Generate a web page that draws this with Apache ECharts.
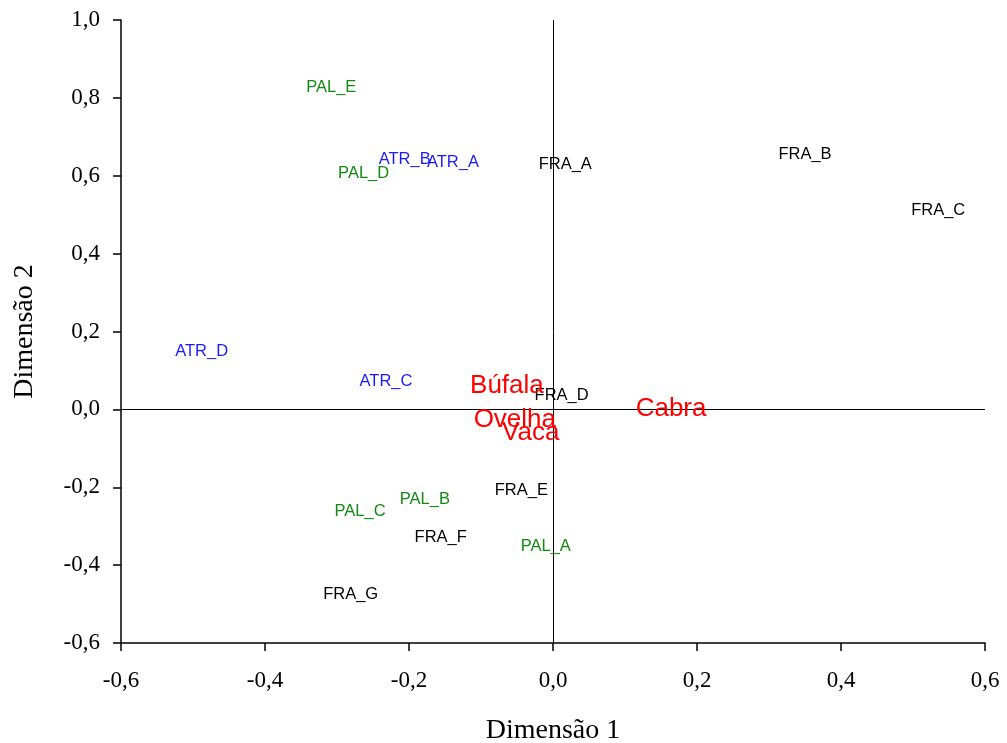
<!DOCTYPE html>
<html>
<head>
<meta charset="utf-8">
<script src="https://cdn.jsdelivr.net/npm/echarts@6/dist/echarts.min.js"></script>
<style>
  html, body { margin: 0; padding: 0; background: #fff; }
  #main { width: 1007px; height: 743px; }
</style>
</head>
<body>
<div id="main"></div>
<script>
// FRA points (black)
var fraNames = ['FRA_A', 'FRA_B', 'FRA_C', 'FRA_D', 'FRA_E', 'FRA_F', 'FRA_G'];
var fraX = [0.017, 0.350, 0.535, 0.012, -0.044, -0.156, -0.281];
var fraY = [0.633, 0.659, 0.515, 0.042, -0.202, -0.325, -0.469];

// ATR points (blue)
var atrNames = ['ATR_A', 'ATR_B', 'ATR_C', 'ATR_D'];
var atrX = [-0.139, -0.206, -0.232, -0.488];
var atrY = [0.640, 0.646, 0.076, 0.155];

// PAL points (green)
var palNames = ['PAL_A', 'PAL_B', 'PAL_C', 'PAL_D', 'PAL_E'];
var palX = [-0.010, -0.178, -0.268, -0.263, -0.308];
var palY = [-0.348, -0.225, -0.256, 0.612, 0.833];

// milk species (red)
var milkNames = ['Búfala', 'Cabra', 'Ovelha', 'Vaca'];
var milkX = [-0.064, 0.164, -0.053, -0.031];
var milkY = [0.065, 0.006, -0.022, -0.055];

var chart = echarts.init(document.getElementById('main'));

function toData(names, xs, ys) {
    return names.map(function (n, i) {
        return { name: n, value: [xs[i], ys[i]] };
    });
}

function labelSeries(name, data, color, size) {
    return {
        name: name,
        type: 'scatter',
        symbolSize: 0,
        data: data,
        itemStyle: { opacity: 1 },
        label: {
            show: true,
            position: 'inside',
            offset: [0, 2],
            formatter: '{b}',
            color: color,
            fontFamily: 'Liberation Sans',
            fontSize: size
        },
        z: 5
    };
}

function fmt(v) {
    return v.toFixed(1).replace('.', ',');
}

var axisCommon = {
    type: 'value',
    min: -0.6,
    interval: 0.2,
    nameLocation: 'middle',
    nameTextStyle: { fontFamily: 'Liberation Serif', fontSize: 28, color: '#000' },
    axisLine: { show: true, onZero: false, lineStyle: { color: '#000', width: 1.5 } },
    axisTick: { show: true, inside: false, length: 8, lineStyle: { color: '#000', width: 1.5 } },
    axisLabel: { formatter: fmt, fontFamily: 'Liberation Serif', fontSize: 23, color: '#000' },
    splitLine: { show: false }
};

var zeroLines = labelSeries('zero', [], '#000', 14);
zeroLines.markLine = {
    silent: true,
    symbol: 'none',
    label: { show: false },
    lineStyle: { color: '#000', width: 1, type: 'solid' },
    data: [{ xAxis: 0 }, { yAxis: 0 }]
};

var option = {
    animation: false,
    grid: { left: 121, right: 22, top: 20, bottom: 100, outerBoundsMode: 'none', containLabel: false },
    xAxis: Object.assign({}, axisCommon, {
        max: 0.6,
        name: 'Dimensão 1',
        nameGap: 74,
        axisLabel: Object.assign({}, axisCommon.axisLabel, { margin: 26 })
    }),
    yAxis: Object.assign({}, axisCommon, {
        max: 1.0,
        name: 'Dimensão 2',
        nameGap: 82,
        axisLabel: Object.assign({}, axisCommon.axisLabel, { margin: 21 })
    }),
    series: [
        zeroLines,
        labelSeries('FRA', toData(fraNames, fraX, fraY), '#000000', 16.5),
        labelSeries('ATR', toData(atrNames, atrX, atrY), '#1a1aff', 16.5),
        labelSeries('PAL', toData(palNames, palX, palY), '#128a12', 16.5),
        labelSeries('Leite', toData(milkNames, milkX, milkY), '#ff0000', 26)
    ]
};

chart.setOption(option);
</script>
</body>
</html>
